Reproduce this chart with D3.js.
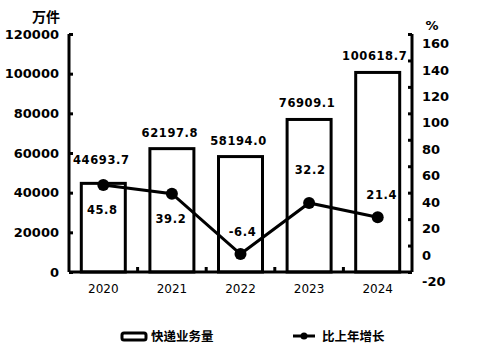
<!DOCTYPE html>
<html><head><meta charset="utf-8">
<script src="https://cdn.jsdelivr.net/npm/d3@7"></script>
<style>body{margin:0;background:#fff}svg{display:block}</style>
</head><body>
<svg id="c" width="502" height="361"></svg>
<script>
const years = ["2020","2021","2022","2023","2024"];
const volume = [44693.7, 62197.8, 58194.0, 76909.1, 100618.7];
const growth = [45.8, 39.2, -6.4, 32.2, 21.4];
const leftTicks = [0,20000,40000,60000,80000,100000,120000];
const rightTicks = [-20,0,20,40,60,80,100,120,140,160];

const svg = d3.select("#c");
const L = 69, R = 412, T = 34, B = 272;
const xb = d3.scaleBand().domain(years).range([L, R]);
const yL = d3.scaleLinear().domain([0,120000]).range([B, T]);
const yR = d3.scaleLinear().domain([-20,160]).range([B, T]);
const num = "DejaVu Sans, sans-serif";
const cjk = "Noto Sans CJK SC, sans-serif";
const f1 = v => v.toFixed(1);

// bars
svg.selectAll("rect.bar").data(years).join("rect")
  .attr("x", d => xb(d) + xb.bandwidth()/2 - 22)
  .attr("width", 44)
  .attr("y", (d,i) => yL(volume[i]))
  .attr("height", (d,i) => B - yL(volume[i]))
  .attr("fill", "#fff").attr("stroke", "#000").attr("stroke-width", 3);

// left axis
const gl = svg.append("g").attr("transform", `translate(${L},0)`)
  .call(d3.axisLeft(yL).tickValues(leftTicks).tickFormat(d => String(d)).tickSize(-4).tickPadding(10));
gl.select(".domain").attr("stroke-width", 3).attr("d", `M0,${T}V${B}`);
gl.selectAll(".tick line").attr("stroke-width", 3);
gl.selectAll("text").attr("font-family", num).attr("font-weight", "bold").attr("font-size", 13).attr("fill","#000");

// right axis
const gr = svg.append("g").attr("transform", `translate(${R},0)`)
  .call(d3.axisRight(yR).tickValues(rightTicks).tickFormat(d => String(d)).tickSize(-4).tickPadding(10));
gr.select(".domain").attr("stroke-width", 3).attr("d", `M0,${T}V${B}`);
gr.selectAll(".tick line").attr("stroke-width", 3);
gr.selectAll("text").attr("font-family", num).attr("font-weight", "bold").attr("font-size", 13).attr("fill","#000").attr("dy", "1.05em");

// bottom axis
const gb = svg.append("g").attr("transform", `translate(0,${B})`)
  .call(d3.axisBottom(xb).tickSize(0).tickPadding(12));
gb.select(".domain").attr("stroke-width", 3).attr("d", `M${L},0H${R}`);
gb.selectAll("text").attr("font-family", num).attr("font-size", 12).attr("fill","#000");
svg.append("g").selectAll("line").data(years.slice(1)).join("line")
  .attr("x1", d => xb(d)).attr("x2", d => xb(d)).attr("y1", B).attr("y2", B-5)
  .attr("stroke", "#000").attr("stroke-width", 3);

// line
const cx = d => xb(d) + xb.bandwidth()/2;
svg.append("path").datum(years)
  .attr("d", d3.line().x(cx).y((d,i) => yR(growth[i])))
  .attr("fill","none").attr("stroke","#000").attr("stroke-width",3);
svg.selectAll("circle.pt").data(years).join("circle")
  .attr("cx", cx).attr("cy", (d,i) => yR(growth[i])).attr("r", 6).attr("fill","#000");

// bar labels
const barOff = [-23, -16, -16, -16, -16];
svg.append("g").selectAll("text").data(years).join("text")
  .attr("x", (d,i) => cx(d) - 2 + (i===4 ? -1 : 0))
  .attr("y", (d,i) => yL(volume[i]) + barOff[i])
  .attr("dy", "0.35em").attr("text-anchor","middle")
  .attr("font-family", num).attr("font-weight","bold").attr("font-size", 11.5).attr("letter-spacing", 0.6)
  .text((d,i) => f1(volume[i]));

// growth labels
const gOff = [25, 25, -22, -33, -22];
const gDx = [-1, -1, 2, 1, 4];
svg.append("g").selectAll("text").data(years).join("text")
  .attr("x", (d,i) => cx(d) + gDx[i])
  .attr("y", (d,i) => yR(growth[i]) + gOff[i])
  .attr("dy", "0.35em").attr("text-anchor","middle")
  .attr("font-family", num).attr("font-weight","bold").attr("font-size", 11.5).attr("letter-spacing", 0.6)
  .text((d,i) => f1(growth[i]));

// units
svg.append("text").attr("x", 46).attr("y", 17).attr("dy","0.35em").attr("text-anchor","middle")
  .attr("font-family", cjk).attr("font-weight","bold").attr("font-size", 14).text("万件");
svg.append("text").attr("x", 432).attr("y", 25).attr("dy","0.35em").attr("text-anchor","middle")
  .attr("font-family", num).attr("font-weight","bold").attr("font-size", 13).text("%");

// legend
const lg = svg.append("g");
lg.append("rect").attr("x", 122).attr("y", 333).attr("width", 24).attr("height", 7).attr("rx", 2)
  .attr("fill","#fff").attr("stroke","#000").attr("stroke-width",3);
lg.append("text").attr("x", 151).attr("y", 337).attr("dy","0.35em")
  .attr("font-family", cjk).attr("font-weight","bold").attr("font-size", 12.5).text("快递业务量");
lg.append("line").attr("x1", 293).attr("x2", 315).attr("y1", 336).attr("y2", 336).attr("stroke","#000").attr("stroke-width",3);
lg.append("circle").attr("cx", 304).attr("cy", 336).attr("r", 3.5).attr("fill","#000");
lg.append("text").attr("x", 322).attr("y", 337).attr("dy","0.35em")
  .attr("font-family", cjk).attr("font-weight","bold").attr("font-size", 12.5).text("比上年增长");
</script>
</body></html>
